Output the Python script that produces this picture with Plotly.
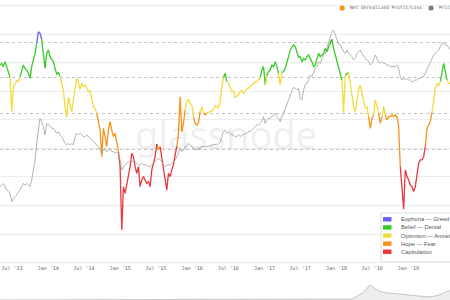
import pandas as pd
import plotly.graph_objects as go

# ---------------- data ----------------
dates = pd.date_range("2013-05-01", periods=271, freq="203h")

nupl = [
    0.589, 0.601, 0.578, 0.613, 0.578, 0.543, 0.503, 0.262, 0.433, 0.461,
    0.480, 0.473, 0.508, 0.554, 0.589, 0.566, 0.554, 0.531, 0.496, 0.578,
    0.625, 0.671, 0.742, 0.823, 0.812, 0.770, 0.660, 0.566, 0.671, 0.695,
    0.648, 0.629, 0.613, 0.566, 0.526, 0.536, 0.508, 0.465, 0.414, 0.297,
    0.222, 0.363, 0.302, 0.262, 0.344,
    0.414, 0.496, 0.473, 0.419, 0.461, 0.437, 0.449, 0.426, 0.402, 0.409,
    0.344, 0.297, 0.285, 0.248, 0.180, 0.133, -0.054, 0.145, 0.087, 0.016,
    0.133, 0.192, 0.133, 0.087, 0.110, 0.040, -0.019, -0.124, -0.568, -0.264,
    -0.311, -0.253, -0.194, -0.124, -0.030, -0.054, -0.124, -0.171, -0.124, -0.264,
    -0.218, -0.194, -0.218, -0.241, -0.229,
    -0.264, -0.147, -0.101, -0.054, 0.035, -0.007, 0.016, -0.054, -0.124, -0.218,
    -0.288, -0.171, -0.194, -0.147, -0.112, -0.042, 0.016, 0.110, 0.367, 0.122,
    0.180, 0.274, 0.332, 0.349, 0.320, 0.309, 0.227, 0.180, 0.168, 0.185,
    0.262, 0.297, 0.252, 0.239, 0.252, 0.255, 0.262, 0.269, 0.278, 0.302,
    0.297, 0.285, 0.332, 0.433, 0.503,
    0.531, 0.473, 0.461, 0.433, 0.402, 0.409, 0.363, 0.372, 0.379, 0.402,
    0.414, 0.391, 0.402, 0.426, 0.426, 0.437, 0.449, 0.461, 0.473, 0.473,
    0.484, 0.503, 0.554, 0.578, 0.449, 0.519, 0.543, 0.554, 0.589, 0.578,
    0.613, 0.578, 0.531, 0.449, 0.536, 0.543, 0.566, 0.601, 0.648, 0.695,
    0.718, 0.730, 0.718, 0.671, 0.643,
    0.648, 0.613, 0.636, 0.625, 0.648, 0.660, 0.636, 0.613, 0.578, 0.589,
    0.636, 0.671, 0.648, 0.660, 0.671, 0.706, 0.683, 0.718, 0.742, 0.770,
    0.706, 0.660, 0.625, 0.566, 0.519, 0.484, 0.255, 0.519, 0.526, 0.536,
    0.442, 0.367, 0.297, 0.262, 0.344, 0.414, 0.449, 0.391, 0.344, 0.285,
    0.297, 0.227, 0.145, 0.215, 0.239,
    0.344, 0.297, 0.250, 0.180, 0.227, 0.297, 0.239, 0.204, 0.227, 0.227,
    0.239, 0.227, 0.239, 0.227, 0.157, -0.124, -0.264, -0.423, -0.147, -0.194,
    -0.218, -0.253, -0.264, -0.299, -0.264, -0.182, -0.101, -0.077, -0.077, -0.054,
    0.016, 0.145, 0.168, 0.192, 0.255, 0.344, 0.426, 0.461, 0.442, 0.473,
    0.543, 0.601, 0.543, 0.484, 0.461, 0.461,
]

price = [
    116, 122, 129, 116, 104, 99, 94, 72, 80, 84,
    89, 99, 104, 116, 129, 122, 129, 122, 116, 144,
    188, 274, 469, 760, 1048, 942, 802, 613, 875, 865,
    802, 760, 760, 684, 647, 684, 613, 581, 522, 469,
    445, 469, 445, 469, 445,
    581, 647, 613, 647, 613, 581, 581, 613, 581, 551,
    522, 495, 469, 445, 421, 378, 340, 378, 400, 358,
    378, 400, 358, 358, 340, 358, 340, 274, 199, 221,
    234, 246, 260, 246, 260, 274, 260, 246, 234, 234,
    246, 234, 234, 234, 221,
    221, 234, 246, 260, 274, 289, 274, 260, 234, 221,
    234, 234, 234, 246, 246, 274, 305, 340, 400, 358,
    378, 421, 421, 469, 445, 421, 400, 378, 378, 400,
    400, 421, 421, 421, 421, 421, 430, 445, 445, 445,
    455, 460, 480, 581, 684,
    720, 647, 684, 647, 613, 613, 581, 581, 613, 581,
    613, 613, 647, 647, 684, 684, 720, 760, 802, 845,
    845, 893, 942, 1107, 893, 994, 1048, 1048, 1107, 1168,
    1232, 1107, 1048, 942, 1130, 1232, 1400, 1611, 1892, 2222,
    2610, 2846, 2754, 2610, 2754,
    1996, 1892, 2610, 3067, 3240, 3600, 4231, 4010, 4713, 5246,
    5540, 6502, 6170, 7239, 8059, 8510, 9989, 11730, 14540, 17085,
    18030, 15680, 13785, 11486, 11122, 9989, 8973, 8510, 9470, 8510,
    8059, 7640, 6860, 7239, 8510, 8973, 9470, 8510, 7640, 7239,
    6860, 6502, 5841, 6170, 6860,
    8059, 7239, 6502, 6170, 6502, 6170, 6170, 5841, 5841, 5540,
    5540, 5540, 5540, 5841, 5246, 4010, 3600, 3801, 3600, 3801,
    3600, 3600, 3414, 3414, 3600, 3600, 3801, 3801, 4010, 4010,
    4470, 5246, 5841, 6502, 7239, 8059, 8510, 8973, 9470, 10540,
    11730, 11990, 11122, 11122, 9989, 9470,
]

nav_dates = ["2010-07-18", "2013-12-01", "2015-06-01", "2017-01-01", "2017-08-11",
             "2017-10-31", "2017-12-21", "2018-01-27", "2018-03-05", "2018-04-25",
             "2018-07-29", "2018-12-01", "2019-03-06", "2019-05-18", "2019-07-08",
             "2019-07-31"]
nav_price = [50, 400, 250, 900, 1300, 9200, 19400, 14500, 10900, 9200,
             7900, 5300, 3900, 6600, 10900, 11800]

band_names = ["Euphoria — Greed", "Belief — Denial", "Optimism — Anxiety",
              "Hope — Fear", "Capitulation"]
band_colors = ["#6a5cf5", "#33cc22", "#f2dc3c", "#f7931a", "#e8383d"]
band_floors = [0.75, 0.5, 0.25, 0.0, -10]
price_grid = [10 ** (1 + 0.4 * k) for k in range(10)]
nupl_grid = [0, 0.25, 0.5, 0.75]


def band(v):
    for i, f in enumerate(band_floors):
        if v >= f:
            return i
    return 4


# ---------------- figure ----------------
W, H = 450, 300
fig = go.Figure()

fig.add_trace(go.Scatter(x=dates, y=price, mode="lines", yaxis="y2",
                         line=dict(color="#a0a0a0", width=0.8),
                         showlegend=False, hoverinfo="skip"))

seg_band = [band((nupl[i] + nupl[i + 1]) / 2) for i in range(len(nupl) - 1)]
for b in range(5):
    ys = []
    for i, v in enumerate(nupl):
        use = (i > 0 and seg_band[i - 1] == b) or (i < len(seg_band) and seg_band[i] == b)
        ys.append(v if use else None)
    fig.add_trace(go.Scatter(x=dates, y=ys, mode="lines", connectgaps=False,
                             line=dict(color=band_colors[b], width=1.3),
                             showlegend=False, hoverinfo="skip"))

fig.add_trace(go.Scatter(x=nav_dates, y=nav_price, mode="lines", xaxis="x3", yaxis="y3",
                         fill="tozeroy", fillcolor="#eeeeee",
                         line=dict(color="#b0b0b0", width=0.7),
                         showlegend=False, hoverinfo="skip"))


def py(p):
    return 1 - p / H


def px(p):
    return p / W


shapes = []
annotations = []

# watermark
annotations.append(dict(text="glassnode", x=px(226), y=py(134), xref="paper", yref="paper",
                        showarrow=False, font=dict(size=38, color="rgba(0,0,0,0.08)",
                                                   family="Noto Sans")))

# top legend
shapes.append(dict(type="circle", xref="paper", yref="paper", x0=px(339.6), x1=px(344.8),
                   y0=py(10.6), y1=py(5.4), fillcolor="#f7931a", line=dict(width=0)))
annotations.append(dict(text="Net Unrealized Profit/Loss", x=px(348), y=py(8), xref="paper",
                        yref="paper", xanchor="left", yanchor="middle", showarrow=False,
                        font=dict(size=4.6, color="#555", family="DejaVu Sans Mono")))
shapes.append(dict(type="circle", xref="paper", yref="paper", x0=px(428.4), x1=px(433.6),
                   y0=py(10.6), y1=py(5.4), fillcolor="#808080", line=dict(width=0)))
annotations.append(dict(text="Price", x=px(436.5), y=py(8), xref="paper",
                        yref="paper", xanchor="left", yanchor="middle", showarrow=False,
                        font=dict(size=4.6, color="#555", family="DejaVu Sans Mono")))

# band legend box
shapes.append(dict(type="rect", xref="paper", yref="paper", x0=px(381), x1=px(460),
                   y0=py(262), y1=py(213), fillcolor="white", line=dict(color="#dddddd", width=1)))
for i, (name, col) in enumerate(zip(band_names, band_colors)):
    cy = 219.3 + i * 8.1
    shapes.append(dict(type="rect", xref="paper", yref="paper", x0=px(383), x1=px(391.5),
                       y0=py(cy + 2.2), y1=py(cy - 2.2), fillcolor=col, line=dict(width=0)))
    annotations.append(dict(text=name, x=px(398.5), y=py(cy), xref="paper", yref="paper",
                            xanchor="left", yanchor="middle", showarrow=False,
                            font=dict(size=5.8, color="#555", family="Liberation Sans")))

fig.update_layout(
    width=W, height=H, margin=dict(l=0, r=0, t=0, b=0),
    paper_bgcolor="white", plot_bgcolor="white", showlegend=False,
    xaxis=dict(domain=[0, 1], range=["2013-05-01", "2019-07-31"], type="date",
               tick0="2013-07-01", dtick="M6", tickformat="%b '%y", ticks="",
               showgrid=False, showline=False, zeroline=False,
               tickfont=dict(size=5, color="#666", family="DejaVu Sans Mono"), anchor="y"),
    yaxis=dict(domain=[0.12, 1], range=[-0.807, 1.0456], tickvals=nupl_grid,
               showticklabels=False, gridcolor="#c4c4c4", griddash="dot", gridwidth=1,
               zeroline=False, showline=False, ticks=""),
    yaxis2=dict(overlaying="y", side="right", type="log", range=[0.983, 4.6755],
                tickvals=price_grid, showticklabels=False, gridcolor="#ececec",
                zeroline=False, showline=False, ticks=""),
    xaxis3=dict(domain=[0, 1], anchor="y3", range=["2010-07-18", "2019-07-31"], type="date",
                visible=False),
    yaxis3=dict(domain=[0, 0.065], anchor="x3", range=[0, 25000], visible=False),
    shapes=shapes, annotations=annotations,
)

fig.write_html("out.html", config={"displayModeBar": False},
               post_script="document.body.style.margin='0';document.body.style.overflow='hidden';")
